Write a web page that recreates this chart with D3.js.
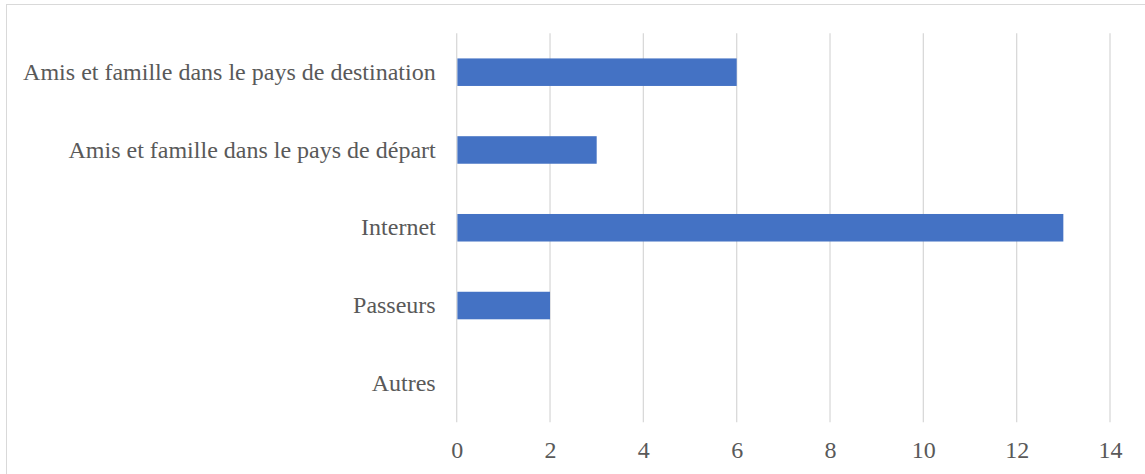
<!DOCTYPE html>
<html><head><meta charset="utf-8">
<script src="https://cdn.jsdelivr.net/npm/d3@7"></script>
<style>
html,body{margin:0;padding:0;background:#fff;}
svg{display:block;}
text{font-family:"Liberation Serif","Times New Roman",serif;fill:#595959;}
</style></head>
<body>
<svg id="chart" width="1145" height="474"></svg>
<script>
const categories = ["Amis et famille dans le pays de destination","Amis et famille dans le pays de départ","Internet","Passeurs","Autres"];
const values = [6,3,13,2,0];
const tickValues = [0,2,4,6,8,10,12,14];

(function(){
const svg = d3.select("#chart");
const mLeft = 456.7, mRight = 1110, mTop = 33.3, mBottom = 422.2;

svg.append("rect").attr("x",6.5).attr("y",4.5).attr("width",1150).attr("height",480)
  .attr("fill","#fff").attr("stroke","#d9d9d9").attr("stroke-width",1);

const x = d3.scaleLinear().domain([0,14]).range([mLeft,mRight]);
const y = d3.scaleBand().domain(categories).range([mTop,mBottom]).paddingInner(0.646).paddingOuter(0.323);

// gridlines
svg.append("g").selectAll("line").data(tickValues).join("line")
  .attr("x1",d=>x(d)).attr("x2",d=>x(d)).attr("y1",mTop).attr("y2",mBottom)
  .attr("stroke","#d9d9d9").attr("stroke-width",1.3);

// bars
svg.append("g").selectAll("rect").data(values).join("rect")
  .attr("x",x(0)+0.7).attr("y",(d,i)=>y(categories[i]))
  .attr("width",d=>Math.max(0,x(d)-x(0)-0.7)).attr("height",y.bandwidth())
  .attr("fill","#4472c4");

// x axis labels
const xAxis = d3.axisBottom(x).tickValues(tickValues).tickSize(0).tickPadding(0).tickFormat(d3.format("d"));
const gx = svg.append("g").attr("transform",`translate(0,${mBottom+28})`).call(xAxis);
gx.select(".domain").remove();
gx.selectAll("text").attr("font-size","24px").attr("dy","0.34em").attr("font-family","Liberation Serif").attr("fill","#595959");

// y axis labels
const yAxis = d3.axisLeft(y).tickSize(0).tickPadding(0);
const gy = svg.append("g").attr("transform",`translate(${mLeft-21},0)`).call(yAxis);
gy.select(".domain").remove();
gy.selectAll("text").attr("font-size","24px").attr("font-family","Liberation Serif").attr("fill","#595959");
})();
</script>
</body></html>
